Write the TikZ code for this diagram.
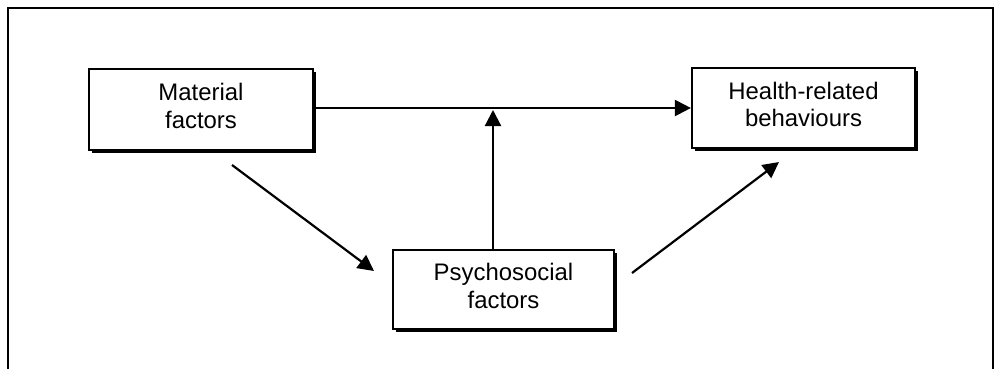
\documentclass[tikz,border=0pt]{standalone}
\usepackage{fontspec}
\setmainfont{Liberation Sans}
\usetikzlibrary{arrows.meta}
\begin{document}
\begin{tikzpicture}[x=1bp,y=-1bp,
  factorbox/.style={draw=black, fill=white, line width=2.2bp, inner sep=0pt},
  boxtext/.style={align=center, font=\fontsize{24}{27.5}\selectfont, yshift=3.5bp},
  shadowbox/.style={fill=black, draw=none, inner sep=0pt},
  link/.style={line width=2.2bp, -{Triangle[length=16bp,width=16bp]}}]
\useasboundingbox (0,0) rectangle (995,368);
\draw[line width=2.6bp] (8,380) -- (8,8) -- (993,8) -- (993,380);
% shadows
\node[shadowbox, minimum width=224bp, minimum height=81bp] at (204,112.5) {};
\node[shadowbox, minimum width=223bp, minimum height=80bp] at (806.5,111) {};
\node[shadowbox, minimum width=221bp, minimum height=79bp] at (506.5,292.5) {};
% boxes
\node[factorbox, minimum width=224bp, minimum height=81bp,
  label={[boxtext]center:Material\\factors}] (mat) at (201,109.5) {};
\node[factorbox, minimum width=223bp, minimum height=80bp,
  label={[boxtext]center:Health-related\\behaviours}] (hea) at (803.5,108) {};
\node[factorbox, minimum width=221bp, minimum height=79bp,
  label={[boxtext]center:Psychosocial\\factors}] (psy) at (503.5,289.5) {};
% connectors
\coordinate (j) at (493,110);
\coordinate (a1s) at (232,165);
\coordinate (a1e) at (374,271);
\coordinate (a2s) at (632,273);
\coordinate (a2e) at (779,162);
\draw[link] (mat.east |- 0,108) -- (hea.west |- 0,108);
\draw[link] (psy.north -| j) -- (j);
\draw[link] (a1s) -- (a1e);
\draw[link] (a2s) -- (a2e);
\end{tikzpicture}
\end{document}
